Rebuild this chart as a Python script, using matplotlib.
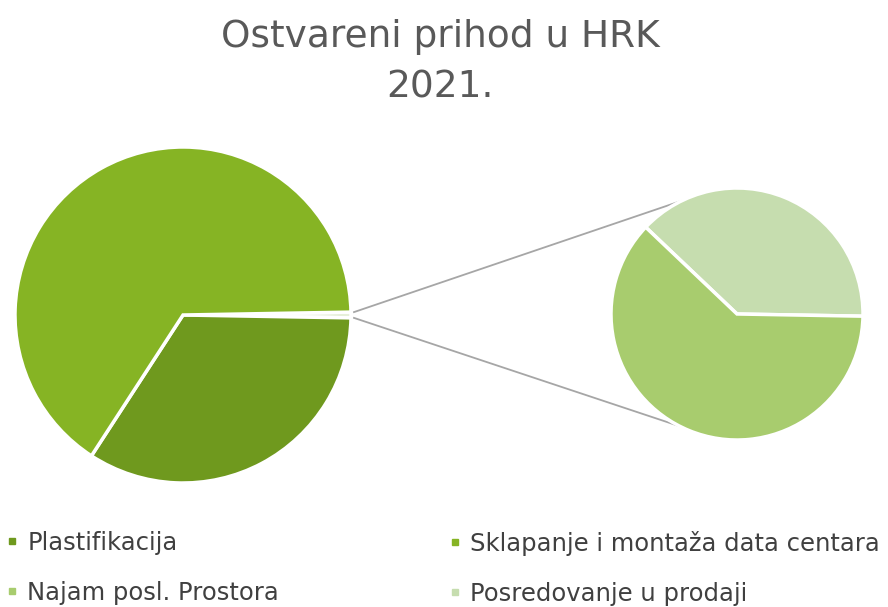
import numpy as np
import matplotlib.pyplot as plt
from matplotlib.lines import Line2D

title_lines = ["Ostvareni prihod u HRK", "2021."]

# primary pie (share of revenue, %)
main_labels = ["Plastifikacija", "Sklapanje i montaža data centara"]
main_values = [33.9, 65.55]

# secondary pie (split of the small "other" slice, %)
sub_labels = ["Posredovanje u prodaji", "Najam posl. Prostora"]
sub_values = [0.21, 0.34]

main_colors = ["#6f991e", "#86b424"]
sub_colors = ["#c6ddaf", "#a8cc6e"]
other_color = "#e6efd8"
line_color = "#a6a6a6"
text_color = "#404040"
title_color = "#595959"

W, H = 888, 607
fig = plt.figure(figsize=(W / 100, H / 100), dpi=100)
ax = fig.add_axes([0, 0, 1, 1])

other = sum(sub_values)
vals = [other] + main_values
other_deg = 360 * other / sum(vals)

wedge_style = dict(edgecolor="white", linewidth=2.5)
wedges, _ = ax.pie(vals, colors=[other_color] + main_colors,
                   startangle=other_deg / 2, counterclock=False,
                   center=(183, 292), radius=168, explode=[0.02, 0, 0],
                   wedgeprops=wedge_style, frame=True)
sub_wedges, _ = ax.pie(sub_values, colors=sub_colors, startangle=-1,
                       center=(737, 293), radius=126,
                       wedgeprops=wedge_style, frame=True)

# connector lines from the "other" slice to the secondary pie
w = wedges[0]
cx, cy = w.center
p_up = (cx + w.r * np.cos(np.radians(w.theta2)), cy + w.r * np.sin(np.radians(w.theta2)))
p_lo = (cx + w.r * np.cos(np.radians(w.theta1)), cy + w.r * np.sin(np.radians(w.theta1)))
sw = sub_wedges[0]
sx, sy = sw.center
q_up = (sx + sw.r * np.cos(np.radians(116)), sy + sw.r * np.sin(np.radians(116)))
q_lo = (sx + sw.r * np.cos(np.radians(-117)), sy + sw.r * np.sin(np.radians(-117)))
for p, q in [(p_up, q_up), (p_lo, q_lo)]:
    ax.plot([p[0] + 3, q[0]], [p[1], q[1]], color=line_color, lw=1.3, zorder=0)

ax.set_xlim(0, W)
ax.set_ylim(0, H)
ax.set_aspect("equal")
ax.axis("off")

# title
ax.text(440, H - 47, title_lines[0], ha="center", va="baseline",
        fontsize=27, color=title_color)
ax.text(440, H - 97, title_lines[1], ha="center", va="baseline",
        fontsize=27, color=title_color)

# legend, two columns
def handle(c):
    return Line2D([], [], marker="s", linestyle="", color=c, markersize=5)

leg_kw = dict(loc="upper left", bbox_transform=ax.transData, frameon=False,
              fontsize=17.5, labelcolor=text_color, borderpad=0,
              borderaxespad=0, handlelength=0.5, handletextpad=0.38,
              labelspacing=1.05)
leg1 = ax.legend([handle(main_colors[0]), handle(sub_colors[1])],
                 [main_labels[0], sub_labels[1]],
                 bbox_to_anchor=(6, H - 531), **leg_kw)
ax.add_artist(leg1)
ax.legend([handle(main_colors[1]), handle(sub_colors[0])],
          [main_labels[1], sub_labels[0]],
          bbox_to_anchor=(449, H - 531), **leg_kw)

fig.savefig("out.png", dpi=100)
